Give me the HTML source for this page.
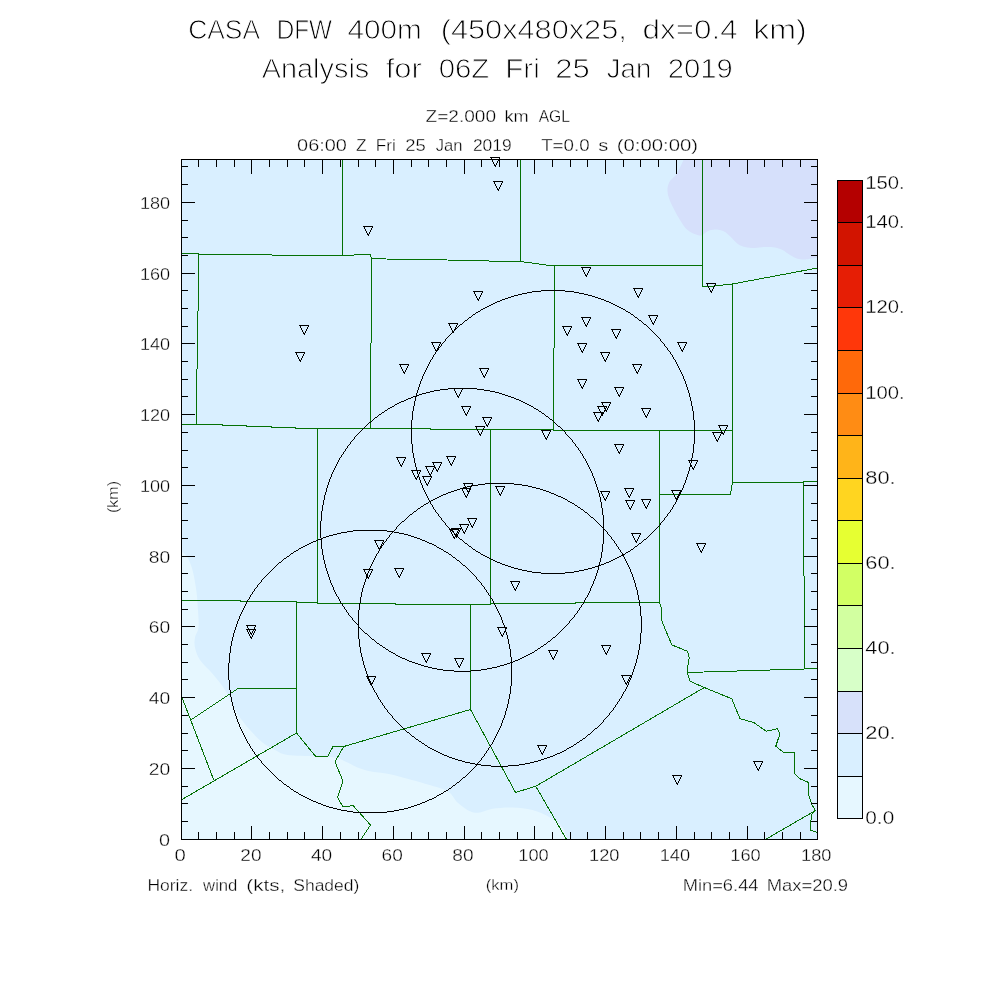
<!DOCTYPE html>
<html lang="en"><head><meta charset="utf-8"><title>CASA DFW 400m Analysis</title>
<style>html,body{margin:0;padding:0;background:#fff}body{width:1000px;height:1000px;overflow:hidden}svg{display:block}text{font-family:"Liberation Sans",sans-serif;fill:#000;stroke:#fff;stroke-width:0.35px}.t1{font-size:27px;stroke-width:.9px}.t2{font-size:16px;stroke-width:.33px}.t3{font-size:14.5px;stroke-width:.3px}.t4{font-size:17.5px;stroke-width:.3px}</style></head><body>
<svg width="1000" height="1000" viewBox="0 0 1000 1000">
<rect width="1000" height="1000" fill="#fff"/>
<defs><clipPath id="pc"><rect x="181.5" y="159.5" width="636.0" height="680.0"/></clipPath></defs>
<g clip-path="url(#pc)">
<rect x="181.5" y="159.5" width="636.0" height="680.0" fill="#d9efff"/>
<path d="M181.50,551.00 C182.50,552.08 185.67,554.33 187.50,557.50 C189.33,560.67 191.04,564.58 192.50,570.00 C193.96,575.42 195.33,583.33 196.25,590.00 C197.17,596.67 197.62,603.75 198.00,610.00 C198.38,616.25 199.00,622.92 198.50,627.50 C198.00,632.08 195.58,634.17 195.00,637.50 C194.42,640.83 194.17,643.75 195.00,647.50 C195.83,651.25 197.08,655.62 200.00,660.00 C202.92,664.38 208.33,668.75 212.50,673.75 C216.67,678.75 220.83,683.33 225.00,690.00 C229.17,696.67 233.33,707.08 237.50,713.75 C241.67,720.42 245.83,725.21 250.00,730.00 C254.17,734.79 258.33,739.17 262.50,742.50 C266.67,745.83 270.83,747.92 275.00,750.00 C279.17,752.08 280.83,753.96 287.50,755.00 C294.17,756.04 307.08,755.83 315.00,756.25 C322.92,756.67 329.58,756.46 335.00,757.50 C340.42,758.54 343.75,760.83 347.50,762.50 C351.25,764.17 353.75,766.04 357.50,767.50 C361.25,768.96 365.00,770.21 370.00,771.25 C375.00,772.29 381.25,772.50 387.50,773.75 C393.75,775.00 401.25,777.08 407.50,778.75 C413.75,780.42 418.33,781.67 425.00,783.75 C431.67,785.83 442.08,788.12 447.50,791.25 C452.92,794.38 453.75,799.17 457.50,802.50 C461.25,805.83 466.25,809.58 470.00,811.25 C473.75,812.92 476.25,812.92 480.00,812.50 C483.75,812.08 487.08,809.58 492.50,808.75 C497.92,807.92 505.83,807.29 512.50,807.50 C519.17,807.71 526.25,808.33 532.50,810.00 C538.75,811.67 545.00,814.58 550.00,817.50 C555.00,820.42 559.58,823.83 562.50,827.50 C565.42,831.17 566.67,837.50 567.50,839.50 L181.5,839.5 Z" fill="#e6f7ff"/>
<path d="M683.75,159.50 C683.12,160.83 681.29,164.92 680.00,167.50 C678.71,170.08 677.67,172.75 676.00,175.00 C674.33,177.25 671.42,178.71 670.00,181.00 C668.58,183.29 667.71,186.00 667.50,188.75 C667.29,191.50 667.71,194.17 668.75,197.50 C669.79,200.83 671.88,205.00 673.75,208.75 C675.62,212.50 677.71,216.46 680.00,220.00 C682.29,223.54 684.58,227.50 687.50,230.00 C690.42,232.50 695.00,234.17 697.50,235.00 C700.00,235.83 700.83,235.62 702.50,235.00 C704.17,234.38 705.42,232.17 707.50,231.25 C709.58,230.33 712.29,229.50 715.00,229.50 C717.71,229.50 721.25,230.12 723.75,231.25 C726.25,232.38 727.71,234.17 730.00,236.25 C732.29,238.33 735.00,241.96 737.50,243.75 C740.00,245.54 742.08,246.29 745.00,247.00 C747.92,247.71 751.67,248.00 755.00,248.00 C758.33,248.00 761.67,247.08 765.00,247.00 C768.33,246.92 772.08,247.00 775.00,247.50 C777.92,248.00 780.00,248.75 782.50,250.00 C785.00,251.25 787.50,253.54 790.00,255.00 C792.50,256.46 795.00,258.00 797.50,258.75 C800.00,259.50 801.67,259.71 805.00,259.50 C808.33,259.29 815.42,257.83 817.50,257.50 L817.5,159.5 Z" fill="#d6e0fb"/>
<g fill="none" stroke="#057005" stroke-width="1" shape-rendering="crispEdges">
<polyline points="342.50,159.50 342.50,255.25"/>
<polyline points="181.50,253.50 198.75,253.50 199.00,254.50 271.25,254.50 272.50,255.25 353.75,255.25 355.00,254.50 370.00,254.50 372.00,258.75 400.00,259.25 422.50,259.25 472.50,260.75 520.75,261.50 550.00,265.50 702.50,265.50"/>
<polyline points="198.75,253.50 198.50,310.00 197.50,312.00 197.50,368.00 196.50,370.00 196.50,423.75"/>
<polyline points="371.75,258.75 371.50,342.00 370.75,344.00 370.75,428.50"/>
<polyline points="520.75,159.50 520.75,261.50"/>
<polyline points="554.50,265.50 554.50,347.50 553.50,348.50 553.50,430.50"/>
<polyline points="702.50,159.50 702.50,286.25 712.00,286.25 732.50,284.00 817.50,268.00"/>
<polyline points="732.50,284.00 732.50,482.50 731.50,487.50 730.50,494.50 659.50,494.50"/>
<polyline points="181.50,424.50 222.00,424.50 222.50,425.50 246.00,425.50 246.50,426.50 271.00,426.50 271.50,427.50 295.00,427.50 295.50,428.50 430.50,428.50 430.50,429.50 553.50,429.50 553.50,430.50 732.50,430.50"/>
<polyline points="317.50,428.50 317.50,603.50"/>
<polyline points="181.50,600.50 240.00,600.50 240.50,601.50 296.00,601.50 296.50,602.50 317.00,602.50 317.50,603.50 395.00,603.50 395.50,604.50 490.00,604.50 490.50,603.50 575.00,603.50 575.50,602.50 659.50,602.50"/>
<polyline points="490.50,429.50 490.50,604.50"/>
<polyline points="659.50,430.50 659.50,602.00 661.25,607.50 661.50,620.00 665.50,630.00 672.00,645.00 687.50,651.25 689.25,657.50 687.00,671.25 690.00,681.25 704.25,687.50 731.75,698.75 740.00,718.75 753.75,722.50 766.25,731.25 777.50,728.75 780.00,733.75 775.75,746.25 783.00,752.00 795.00,752.00 794.50,773.75 800.00,778.75 808.75,782.50 808.75,795.00 812.00,805.00 815.50,810.50 811.25,815.00 810.50,830.00 817.50,832.50"/>
<polyline points="732.50,482.50 803.50,482.50 803.50,481.50 817.50,481.50"/>
<polyline points="803.50,482.00 803.50,575.00 804.50,577.00 804.50,669.00"/>
<polyline points="687.00,672.50 804.25,669.00 817.50,668.25"/>
<polyline points="296.50,602.50 296.50,733.00"/>
<polyline points="296.50,688.00 238.75,688.00 190.75,720.00"/>
<polyline points="182.00,697.50 213.75,780.00"/>
<polyline points="296.50,733.00 182.00,799.50"/>
<polyline points="296.50,733.00 315.50,756.25 328.00,756.25 333.00,746.50 343.75,746.50 470.50,709.50"/>
<polyline points="343.75,746.50 335.00,761.75 343.00,781.25 337.50,797.50 343.00,807.00 353.00,805.50 370.50,825.00 361.25,839.00"/>
<polyline points="470.50,604.50 470.50,709.50"/>
<polyline points="470.50,709.50 515.50,792.50 535.75,786.25 704.25,687.50"/>
<polyline points="535.75,786.25 566.25,839.00"/>
<polyline points="815.50,810.50 766.25,839.00"/>
</g>
<g fill="#000" stroke="none" shape-rendering="crispEdges">
<path d="M541,290h24v1h-24zm-9,1h9v1h-9zm33,0h9v1h-9zm-38,1h5v1h-5zm47,0h5v1h-5zm-52,1h5v1h-5zm57,0h5v1h-5zm-61,1h4v1h-4zm66,0h4v1h-4zm-70,1h4v1h-4zm74,0h4v1h-4zm-77,1h3v1h-3zm81,0h3v1h-3zm-84,1h3v1h-3zm87,0h3v1h-3zm-90,1h3v1h-3zm93,0h3v1h-3zm-96,1h3v1h-3zm99,0h3v1h-3zm-101,1h2v1h-2zm104,0h2v1h-2zm-107,1h3v1h-3zm109,0h3v1h-3zm-111,1h2v1h-2zm114,0h2v1h-2zm-116,1h2v1h-2zm118,0h2v1h-2zm-120,1h2v1h-2zm122,0h2v1h-2zm-124,1h2v1h-2zm126,0h2v1h-2zm-128,1h2v1h-2zm130,0h2v1h-2zm-132,1h2v1h-2zm134,0h2v1h-2zm-136,1h2v1h-2zm138,0h2v1h-2zm-140,1h2v1h-2zm142,0h2v1h-2zm-143,1h1v1h-1zm145,0h1v1h-1zm-147,1h2v1h-2zm148,0h2v1h-2zm-150,1h2v1h-2zm152,0h2v1h-2zm-153,1h1v1h-1zm155,0h1v1h-1zm-157,1h2v1h-2zm158,0h2v1h-2zm-159,1h1v1h-1zm161,0h1v1h-1zm-162,1h1v1h-1zm163,0h1v1h-1zm-165,1h2v1h-2zm166,0h2v1h-2zm-167,1h1v1h-1zm169,0h1v1h-1zm-170,1h1v1h-1zm171,0h1v1h-1zm-173,1h2v1h-2zm174,0h2v1h-2zm-175,1h1v1h-1zm177,0h1v1h-1zm-178,1h1v1h-1zm179,0h1v1h-1zm-180,1h1v1h-1zm181,0h1v1h-1zm-183,1h2v1h-2zm184,0h2v1h-2zm-185,1h1v1h-1zm187,0h1v1h-1zm-188,1h1v1h-1zm189,0h1v1h-1zm-190,1h1v1h-1zm191,0h1v1h-1zm-192,1h1v1h-1zm193,0h1v1h-1zm-194,1h1v1h-1zm195,0h1v1h-1zm-196,1h1v1h-1zm197,0h1v1h-1zm-198,1h1v1h-1zm199,0h1v1h-1zm-200,1h1v1h-1zm201,0h1v1h-1zm-201,199h1v1h-1zm201,0h1v1h-1zm-200,1h1v1h-1zm199,0h1v1h-1zm-198,1h1v1h-1zm197,0h1v1h-1zm-196,1h1v1h-1zm195,0h1v1h-1zm-194,1h1v1h-1zm193,0h1v1h-1zm-192,1h1v1h-1zm191,0h1v1h-1zm-190,1h1v1h-1zm189,0h1v1h-1zm-188,1h1v1h-1zm187,0h1v1h-1zm-186,1h2v1h-2zm184,0h2v1h-2zm-182,1h1v1h-1zm181,0h1v1h-1zm-180,1h1v1h-1zm179,0h1v1h-1zm-178,1h1v1h-1zm177,0h1v1h-1zm-176,1h2v1h-2zm174,0h2v1h-2zm-172,1h1v1h-1zm171,0h1v1h-1zm-170,1h1v1h-1zm169,0h1v1h-1zm-168,1h2v1h-2zm166,0h2v1h-2zm-164,1h1v1h-1zm163,0h1v1h-1zm-162,1h1v1h-1zm161,0h1v1h-1zm-160,1h2v1h-2zm158,0h2v1h-2zm-156,1h1v1h-1zm155,0h1v1h-1zm-154,1h2v1h-2zm152,0h2v1h-2zm-150,1h2v1h-2zm148,0h2v1h-2zm-146,1h1v1h-1zm145,0h1v1h-1zm-144,1h2v1h-2zm142,0h2v1h-2zm-140,1h2v1h-2zm138,0h2v1h-2zm-136,1h2v1h-2zm134,0h2v1h-2zm-132,1h2v1h-2zm130,0h2v1h-2zm-128,1h2v1h-2zm126,0h2v1h-2zm-124,1h2v1h-2zm122,0h2v1h-2zm-120,1h2v1h-2zm118,0h2v1h-2zm-116,1h2v1h-2zm114,0h2v1h-2zm-112,1h3v1h-3zm109,0h3v1h-3zm-106,1h2v1h-2zm104,0h2v1h-2zm-102,1h3v1h-3zm99,0h3v1h-3zm-96,1h3v1h-3zm93,0h3v1h-3zm-90,1h3v1h-3zm87,0h3v1h-3zm-84,1h3v1h-3zm81,0h3v1h-3zm-78,1h4v1h-4zm74,0h4v1h-4zm-70,1h4v1h-4zm66,0h4v1h-4zm-62,1h5v1h-5zm57,0h5v1h-5zm-52,1h5v1h-5zm47,0h5v1h-5zm-42,1h9v1h-9zm33,0h9v1h-9zm-24,1h24v1h-24zm-130,-153h1v24h-1zm1,-9h1v9h-1zm0,33h1v9h-1zm1,-38h1v5h-1zm0,47h1v5h-1zm1,-52h1v5h-1zm0,57h1v5h-1zm1,-61h1v4h-1zm0,66h1v4h-1zm1,-70h1v4h-1zm0,74h1v4h-1zm1,-77h1v3h-1zm0,81h1v3h-1zm1,-84h1v3h-1zm0,87h1v3h-1zm1,-90h1v3h-1zm0,93h1v3h-1zm1,-96h1v3h-1zm0,99h1v3h-1zm1,-101h1v2h-1zm0,104h1v2h-1zm1,-107h1v3h-1zm0,109h1v3h-1zm1,-111h1v2h-1zm0,114h1v2h-1zm1,-116h1v2h-1zm0,118h1v2h-1zm1,-120h1v2h-1zm0,122h1v2h-1zm1,-124h1v2h-1zm0,126h1v2h-1zm1,-128h1v2h-1zm0,130h1v2h-1zm1,-132h1v2h-1zm0,134h1v2h-1zm1,-136h1v2h-1zm0,138h1v2h-1zm1,-140h1v2h-1zm0,142h1v2h-1zm1,-143h1v1h-1zm0,145h1v1h-1zm1,-147h1v2h-1zm0,148h1v2h-1zm1,-150h1v2h-1zm0,152h1v2h-1zm1,-153h1v1h-1zm0,155h1v1h-1zm1,-157h1v2h-1zm0,158h1v2h-1zm1,-159h1v1h-1zm0,161h1v1h-1zm1,-162h1v1h-1zm0,163h1v1h-1zm1,-165h1v2h-1zm0,166h1v2h-1zm1,-167h1v1h-1zm0,169h1v1h-1zm1,-170h1v1h-1zm0,171h1v1h-1zm1,-173h1v2h-1zm0,174h1v2h-1zm1,-175h1v1h-1zm0,177h1v1h-1zm1,-178h1v1h-1zm0,179h1v1h-1zm1,-180h1v1h-1zm0,181h1v1h-1zm1,-183h1v2h-1zm0,184h1v2h-1zm1,-185h1v1h-1zm0,187h1v1h-1zm1,-188h1v1h-1zm0,189h1v1h-1zm1,-190h1v1h-1zm0,191h1v1h-1zm1,-192h1v1h-1zm0,193h1v1h-1zm1,-194h1v1h-1zm0,195h1v1h-1zm1,-196h1v1h-1zm0,197h1v1h-1zm203,-197h1v1h-1zm0,197h1v1h-1zm1,-196h1v1h-1zm0,195h1v1h-1zm1,-194h1v1h-1zm0,193h1v1h-1zm1,-192h1v1h-1zm0,191h1v1h-1zm1,-190h1v1h-1zm0,189h1v1h-1zm1,-188h1v1h-1zm0,187h1v1h-1zm1,-186h1v2h-1zm0,184h1v2h-1zm1,-182h1v1h-1zm0,181h1v1h-1zm1,-180h1v1h-1zm0,179h1v1h-1zm1,-178h1v1h-1zm0,177h1v1h-1zm1,-176h1v2h-1zm0,174h1v2h-1zm1,-172h1v1h-1zm0,171h1v1h-1zm1,-170h1v1h-1zm0,169h1v1h-1zm1,-168h1v2h-1zm0,166h1v2h-1zm1,-164h1v1h-1zm0,163h1v1h-1zm1,-162h1v1h-1zm0,161h1v1h-1zm1,-160h1v2h-1zm0,158h1v2h-1zm1,-156h1v1h-1zm0,155h1v1h-1zm1,-154h1v2h-1zm0,152h1v2h-1zm1,-150h1v2h-1zm0,148h1v2h-1zm1,-146h1v1h-1zm0,145h1v1h-1zm1,-144h1v2h-1zm0,142h1v2h-1zm1,-140h1v2h-1zm0,138h1v2h-1zm1,-136h1v2h-1zm0,134h1v2h-1zm1,-132h1v2h-1zm0,130h1v2h-1zm1,-128h1v2h-1zm0,126h1v2h-1zm1,-124h1v2h-1zm0,122h1v2h-1zm1,-120h1v2h-1zm0,118h1v2h-1zm1,-116h1v2h-1zm0,114h1v2h-1zm1,-112h1v3h-1zm0,109h1v3h-1zm1,-106h1v2h-1zm0,104h1v2h-1zm1,-102h1v3h-1zm0,99h1v3h-1zm1,-96h1v3h-1zm0,93h1v3h-1zm1,-90h1v3h-1zm0,87h1v3h-1zm1,-84h1v3h-1zm0,81h1v3h-1zm1,-78h1v4h-1zm0,74h1v4h-1zm1,-70h1v4h-1zm0,66h1v4h-1zm1,-62h1v5h-1zm0,57h1v5h-1zm1,-52h1v5h-1zm0,47h1v5h-1zm1,-42h1v9h-1zm0,33h1v9h-1zm1,-24h1v24h-1z"/>
<path d="M448,388h29v1h-29zm-8,1h8v1h-8zm37,0h7v1h-7zm-43,1h6v1h-6zm50,0h6v1h-6zm-54,1h4v1h-4zm60,0h5v1h-5zm-64,1h4v1h-4zm69,0h4v1h-4zm-73,1h4v1h-4zm77,0h3v1h-3zm-80,1h3v1h-3zm83,0h3v1h-3zm-86,1h3v1h-3zm89,0h3v1h-3zm-92,1h3v1h-3zm95,0h3v1h-3zm-97,1h2v1h-2zm100,0h3v1h-3zm-103,1h3v1h-3zm106,0h2v1h-2zm-108,1h2v1h-2zm110,0h3v1h-3zm-112,1h2v1h-2zm115,0h2v1h-2zm-118,1h3v1h-3zm120,0h2v1h-2zm-122,1h2v1h-2zm124,0h2v1h-2zm-126,1h2v1h-2zm128,0h2v1h-2zm-130,1h2v1h-2zm132,0h2v1h-2zm-133,1h1v1h-1zm135,0h2v1h-2zm-137,1h2v1h-2zm139,0h2v1h-2zm-141,1h2v1h-2zm143,0h1v1h-1zm-145,1h2v1h-2zm146,0h2v1h-2zm-147,1h1v1h-1zm149,0h2v1h-2zm-151,1h2v1h-2zm153,0h1v1h-1zm-154,1h1v1h-1zm155,0h2v1h-2zm-157,1h2v1h-2zm159,0h1v1h-1zm-160,1h1v1h-1zm161,0h2v1h-2zm-163,1h2v1h-2zm165,0h1v1h-1zm-166,1h1v1h-1zm167,0h1v1h-1zm-168,1h1v1h-1zm169,0h2v1h-2zm-171,1h2v1h-2zm173,0h1v1h-1zm-174,1h1v1h-1zm175,0h1v1h-1zm-176,1h1v1h-1zm177,0h2v1h-2zm-178,1h1v1h-1zm180,0h1v1h-1zm-181,1h1v1h-1zm182,0h1v1h-1zm-184,1h2v1h-2zm185,0h1v1h-1zm-186,1h1v1h-1zm187,0h1v1h-1zm-188,1h1v1h-1zm189,0h1v1h-1zm-190,1h1v1h-1zm191,0h1v1h-1zm-192,1h1v1h-1zm193,0h2v1h-2zm-194,1h1v1h-1zm196,0h1v1h-1zm-197,1h1v1h-1zm198,0h1v1h-1zm-199,1h1v1h-1zm200,0h1v1h-1zm0,200h1v1h-1zm-200,1h1v1h-1zm199,0h1v1h-1zm-198,1h1v1h-1zm197,0h1v1h-1zm-196,1h1v1h-1zm195,0h1v1h-1zm-194,1h2v1h-2zm193,0h1v1h-1zm-191,1h1v1h-1zm190,0h1v1h-1zm-189,1h1v1h-1zm188,0h1v1h-1zm-187,1h1v1h-1zm186,0h1v1h-1zm-185,1h1v1h-1zm183,0h2v1h-2zm-182,1h1v1h-1zm181,0h1v1h-1zm-180,1h2v1h-2zm179,0h1v1h-1zm-177,1h1v1h-1zm176,0h1v1h-1zm-175,1h1v1h-1zm173,0h2v1h-2zm-172,1h1v1h-1zm171,0h1v1h-1zm-170,1h2v1h-2zm169,0h1v1h-1zm-167,1h1v1h-1zm165,0h2v1h-2zm-164,1h2v1h-2zm163,0h1v1h-1zm-161,1h1v1h-1zm159,0h2v1h-2zm-158,1h2v1h-2zm157,0h1v1h-1zm-155,1h1v1h-1zm153,0h2v1h-2zm-152,1h2v1h-2zm151,0h1v1h-1zm-149,1h1v1h-1zm147,0h2v1h-2zm-146,1h2v1h-2zm145,0h1v1h-1zm-143,1h2v1h-2zm141,0h2v1h-2zm-139,1h2v1h-2zm137,0h2v1h-2zm-135,1h1v1h-1zm133,0h2v1h-2zm-132,1h2v1h-2zm130,0h2v1h-2zm-128,1h2v1h-2zm126,0h2v1h-2zm-124,1h2v1h-2zm122,0h2v1h-2zm-120,1h3v1h-3zm118,0h2v1h-2zm-115,1h2v1h-2zm113,0h2v1h-2zm-111,1h2v1h-2zm108,0h3v1h-3zm-106,1h3v1h-3zm104,0h2v1h-2zm-101,1h3v1h-3zm98,0h3v1h-3zm-95,1h3v1h-3zm92,0h3v1h-3zm-89,1h3v1h-3zm86,0h3v1h-3zm-83,1h3v1h-3zm79,0h4v1h-4zm-76,1h4v1h-4zm73,0h3v1h-3zm-69,1h4v1h-4zm64,0h5v1h-5zm-60,1h5v1h-5zm55,0h5v1h-5zm-50,1h6v1h-6zm44,0h6v1h-6zm-38,1h11v1h-11zm28,0h10v1h-10zm-17,1h17v1h-17zm-134,-150h1v17h-1zm1,-10h1v10h-1zm0,27h1v11h-1zm1,-33h1v6h-1zm0,44h1v6h-1zm1,-49h1v5h-1zm0,55h1v5h-1zm1,-60h1v5h-1zm0,65h1v4h-1zm1,-68h1v3h-1zm0,72h1v4h-1zm1,-76h1v4h-1zm0,80h1v3h-1zm1,-83h1v3h-1zm0,86h1v3h-1zm1,-89h1v3h-1zm0,92h1v3h-1zm1,-95h1v3h-1zm0,98h1v3h-1zm1,-100h1v2h-1zm0,103h1v3h-1zm1,-106h1v3h-1zm0,109h1v2h-1zm1,-111h1v2h-1zm0,113h1v2h-1zm1,-115h1v2h-1zm0,117h1v3h-1zm1,-119h1v2h-1zm0,122h1v2h-1zm1,-124h1v2h-1zm0,126h1v2h-1zm1,-128h1v2h-1zm0,130h1v2h-1zm1,-132h1v2h-1zm0,134h1v1h-1zm1,-136h1v2h-1zm0,137h1v2h-1zm1,-139h1v2h-1zm0,141h1v2h-1zm1,-142h1v1h-1zm0,144h1v2h-1zm1,-146h1v2h-1zm0,148h1v1h-1zm1,-149h1v1h-1zm0,150h1v2h-1zm1,-152h1v2h-1zm0,154h1v1h-1zm1,-155h1v1h-1zm0,156h1v2h-1zm1,-158h1v2h-1zm0,160h1v1h-1zm1,-161h1v1h-1zm0,162h1v2h-1zm1,-164h1v2h-1zm0,166h1v1h-1zm1,-167h1v1h-1zm0,168h1v2h-1zm1,-169h1v1h-1zm0,171h1v1h-1zm1,-173h1v2h-1zm0,174h1v1h-1zm1,-175h1v1h-1zm0,176h1v1h-1zm1,-177h1v1h-1zm0,178h1v2h-1zm1,-179h1v1h-1zm0,181h1v1h-1zm1,-183h1v2h-1zm0,184h1v1h-1zm1,-185h1v1h-1zm0,186h1v1h-1zm1,-187h1v1h-1zm0,188h1v1h-1zm1,-189h1v1h-1zm0,190h1v1h-1zm1,-191h1v1h-1zm0,192h1v2h-1zm1,-193h1v1h-1zm0,195h1v1h-1zm1,-196h1v1h-1zm0,197h1v1h-1zm1,-198h1v1h-1zm0,199h1v1h-1zm202,-199h1v1h-1zm0,198h1v1h-1zm1,-197h1v1h-1zm0,196h1v1h-1zm1,-195h1v2h-1zm0,194h1v1h-1zm1,-192h1v1h-1zm0,191h1v1h-1zm1,-190h1v1h-1zm0,189h1v1h-1zm1,-188h1v1h-1zm0,187h1v1h-1zm1,-186h1v1h-1zm0,184h1v2h-1zm1,-183h1v1h-1zm0,182h1v1h-1zm1,-181h1v1h-1zm0,180h1v1h-1zm1,-179h1v2h-1zm0,178h1v1h-1zm1,-176h1v1h-1zm0,175h1v1h-1zm1,-174h1v1h-1zm0,172h1v2h-1zm1,-171h1v2h-1zm0,170h1v1h-1zm1,-168h1v1h-1zm0,167h1v1h-1zm1,-166h1v1h-1zm0,164h1v2h-1zm1,-163h1v2h-1zm0,162h1v1h-1zm1,-160h1v1h-1zm0,158h1v2h-1zm1,-157h1v2h-1zm0,156h1v1h-1zm1,-154h1v1h-1zm0,152h1v2h-1zm1,-151h1v2h-1zm0,150h1v1h-1zm1,-148h1v2h-1zm0,146h1v2h-1zm1,-144h1v1h-1zm0,142h1v2h-1zm1,-141h1v2h-1zm0,139h1v2h-1zm1,-137h1v2h-1zm0,136h1v1h-1zm1,-134h1v2h-1zm0,132h1v2h-1zm1,-130h1v2h-1zm0,128h1v2h-1zm1,-126h1v2h-1zm0,124h1v2h-1zm1,-122h1v2h-1zm0,119h1v3h-1zm1,-117h1v2h-1zm0,115h1v2h-1zm1,-113h1v3h-1zm0,111h1v2h-1zm1,-108h1v2h-1zm0,105h1v3h-1zm1,-103h1v3h-1zm0,101h1v2h-1zm1,-98h1v3h-1zm0,95h1v3h-1zm1,-92h1v3h-1zm0,89h1v3h-1zm1,-86h1v3h-1zm0,83h1v3h-1zm1,-80h1v3h-1zm0,76h1v4h-1zm1,-73h1v4h-1zm0,69h1v4h-1zm1,-65h1v5h-1zm0,61h1v4h-1zm1,-56h1v6h-1zm0,50h1v6h-1zm1,-44h1v7h-1zm0,36h1v8h-1zm1,-29h1v29h-1z"/>
<path d="M485,483h29v1h-29zm-7,1h7v1h-7zm36,0h8v1h-8zm-42,1h6v1h-6zm50,0h6v1h-6zm-55,1h5v1h-5zm61,0h4v1h-4zm-65,1h4v1h-4zm69,0h4v1h-4zm-72,1h3v1h-3zm76,0h4v1h-4zm-79,1h3v1h-3zm83,0h3v1h-3zm-86,1h3v1h-3zm89,0h3v1h-3zm-92,1h3v1h-3zm95,0h3v1h-3zm-98,1h3v1h-3zm101,0h2v1h-2zm-103,1h2v1h-2zm105,0h3v1h-3zm-108,1h3v1h-3zm111,0h2v1h-2zm-113,1h2v1h-2zm115,0h2v1h-2zm-117,1h2v1h-2zm119,0h3v1h-3zm-121,1h2v1h-2zm124,0h2v1h-2zm-126,1h2v1h-2zm128,0h2v1h-2zm-130,1h2v1h-2zm132,0h2v1h-2zm-134,1h2v1h-2zm136,0h1v1h-1zm-138,1h2v1h-2zm139,0h2v1h-2zm-140,1h1v1h-1zm142,0h2v1h-2zm-144,1h2v1h-2zm146,0h2v1h-2zm-148,1h2v1h-2zm150,0h1v1h-1zm-151,1h1v1h-1zm152,0h2v1h-2zm-154,1h2v1h-2zm156,0h1v1h-1zm-157,1h1v1h-1zm158,0h2v1h-2zm-160,1h2v1h-2zm162,0h1v1h-1zm-163,1h1v1h-1zm164,0h2v1h-2zm-165,1h1v1h-1zm167,0h1v1h-1zm-169,1h2v1h-2zm170,0h1v1h-1zm-171,1h1v1h-1zm172,0h2v1h-2zm-173,1h1v1h-1zm175,0h1v1h-1zm-177,1h2v1h-2zm178,0h1v1h-1zm-179,1h1v1h-1zm180,0h1v1h-1zm-181,1h1v1h-1zm182,0h1v1h-1zm-183,1h1v1h-1zm184,0h2v1h-2zm-185,1h1v1h-1zm187,0h1v1h-1zm-188,1h1v1h-1zm189,0h1v1h-1zm-190,1h1v1h-1zm191,0h1v1h-1zm-193,1h2v1h-2zm194,0h1v1h-1zm-195,1h1v1h-1zm196,0h1v1h-1zm-197,1h1v1h-1zm198,0h1v1h-1zm-199,1h1v1h-1zm200,0h1v1h-1zm-200,200h1v1h-1zm1,1h1v1h-1zm199,0h1v1h-1zm-198,1h1v1h-1zm197,0h1v1h-1zm-196,1h1v1h-1zm195,0h1v1h-1zm-194,1h1v1h-1zm192,0h2v1h-2zm-191,1h1v1h-1zm190,0h1v1h-1zm-189,1h1v1h-1zm188,0h1v1h-1zm-187,1h1v1h-1zm186,0h1v1h-1zm-185,1h2v1h-2zm184,0h1v1h-1zm-182,1h1v1h-1zm181,0h1v1h-1zm-180,1h1v1h-1zm178,0h2v1h-2zm-177,1h1v1h-1zm176,0h1v1h-1zm-175,1h2v1h-2zm174,0h1v1h-1zm-172,1h1v1h-1zm171,0h1v1h-1zm-170,1h1v1h-1zm168,0h2v1h-2zm-167,1h2v1h-2zm166,0h1v1h-1zm-164,1h1v1h-1zm162,0h2v1h-2zm-161,1h2v1h-2zm160,0h1v1h-1zm-158,1h1v1h-1zm156,0h2v1h-2zm-155,1h2v1h-2zm154,0h1v1h-1zm-152,1h1v1h-1zm150,0h2v1h-2zm-149,1h2v1h-2zm148,0h1v1h-1zm-146,1h1v1h-1zm144,0h2v1h-2zm-143,1h2v1h-2zm141,0h2v1h-2zm-139,1h2v1h-2zm137,0h2v1h-2zm-135,1h2v1h-2zm134,0h1v1h-1zm-132,1h2v1h-2zm130,0h2v1h-2zm-128,1h2v1h-2zm126,0h2v1h-2zm-124,1h2v1h-2zm122,0h2v1h-2zm-120,1h2v1h-2zm117,0h3v1h-3zm-115,1h2v1h-2zm113,0h2v1h-2zm-111,1h3v1h-3zm109,0h2v1h-2zm-106,1h2v1h-2zm103,0h3v1h-3zm-101,1h3v1h-3zm98,0h3v1h-3zm-95,1h3v1h-3zm92,0h3v1h-3zm-89,1h3v1h-3zm86,0h3v1h-3zm-83,1h4v1h-4zm80,0h3v1h-3zm-76,1h3v1h-3zm72,0h4v1h-4zm-69,1h5v1h-5zm65,0h4v1h-4zm-60,1h5v1h-5zm55,0h5v1h-5zm-50,1h6v1h-6zm44,0h6v1h-6zm-38,1h10v1h-10zm27,0h11v1h-11zm-17,1h17v1h-17zm-133,-156h1v29h-1zm1,-7h1v7h-1zm0,36h1v8h-1zm1,-42h1v6h-1zm0,50h1v6h-1zm1,-55h1v5h-1zm0,61h1v4h-1zm1,-65h1v4h-1zm0,69h1v4h-1zm1,-72h1v3h-1zm0,76h1v4h-1zm1,-79h1v3h-1zm0,83h1v3h-1zm1,-86h1v3h-1zm0,89h1v3h-1zm1,-92h1v3h-1zm0,95h1v3h-1zm1,-98h1v3h-1zm0,101h1v2h-1zm1,-103h1v2h-1zm0,105h1v3h-1zm1,-108h1v3h-1zm0,111h1v2h-1zm1,-113h1v2h-1zm0,115h1v2h-1zm1,-117h1v2h-1zm0,119h1v3h-1zm1,-121h1v2h-1zm0,124h1v2h-1zm1,-126h1v2h-1zm0,128h1v2h-1zm1,-130h1v2h-1zm0,132h1v2h-1zm1,-134h1v2h-1zm0,136h1v1h-1zm1,-138h1v2h-1zm0,139h1v2h-1zm1,-140h1v1h-1zm0,142h1v2h-1zm1,-144h1v2h-1zm0,146h1v2h-1zm1,-148h1v2h-1zm0,150h1v1h-1zm1,-151h1v1h-1zm0,152h1v2h-1zm1,-154h1v2h-1zm0,156h1v1h-1zm1,-157h1v1h-1zm0,158h1v2h-1zm1,-160h1v2h-1zm0,162h1v1h-1zm1,-163h1v1h-1zm0,164h1v2h-1zm1,-165h1v1h-1zm0,167h1v1h-1zm1,-169h1v2h-1zm0,170h1v1h-1zm1,-171h1v1h-1zm0,172h1v2h-1zm1,-173h1v1h-1zm0,175h1v1h-1zm1,-177h1v2h-1zm0,178h1v1h-1zm1,-179h1v1h-1zm0,180h1v1h-1zm1,-181h1v1h-1zm0,182h1v1h-1zm1,-183h1v1h-1zm0,184h1v2h-1zm1,-185h1v1h-1zm0,187h1v1h-1zm1,-188h1v1h-1zm0,189h1v1h-1zm1,-190h1v1h-1zm0,191h1v1h-1zm1,-193h1v2h-1zm0,194h1v1h-1zm1,-195h1v1h-1zm0,196h1v1h-1zm1,-197h1v1h-1zm0,198h1v1h-1zm202,-198h1v1h-1zm0,199h1v1h-1zm1,-198h1v1h-1zm0,197h1v1h-1zm1,-196h1v1h-1zm0,195h1v1h-1zm1,-194h1v1h-1zm0,192h1v2h-1zm1,-191h1v1h-1zm0,190h1v1h-1zm1,-189h1v1h-1zm0,188h1v1h-1zm1,-187h1v1h-1zm0,186h1v1h-1zm1,-185h1v2h-1zm0,184h1v1h-1zm1,-182h1v1h-1zm0,181h1v1h-1zm1,-180h1v1h-1zm0,178h1v2h-1zm1,-177h1v1h-1zm0,176h1v1h-1zm1,-175h1v2h-1zm0,174h1v1h-1zm1,-172h1v1h-1zm0,171h1v1h-1zm1,-170h1v1h-1zm0,168h1v2h-1zm1,-167h1v2h-1zm0,166h1v1h-1zm1,-164h1v1h-1zm0,162h1v2h-1zm1,-161h1v2h-1zm0,160h1v1h-1zm1,-158h1v1h-1zm0,156h1v2h-1zm1,-155h1v2h-1zm0,154h1v1h-1zm1,-152h1v1h-1zm0,150h1v2h-1zm1,-149h1v2h-1zm0,148h1v1h-1zm1,-146h1v1h-1zm0,144h1v2h-1zm1,-143h1v2h-1zm0,141h1v2h-1zm1,-139h1v2h-1zm0,137h1v2h-1zm1,-135h1v2h-1zm0,134h1v1h-1zm1,-132h1v2h-1zm0,130h1v2h-1zm1,-128h1v2h-1zm0,126h1v2h-1zm1,-124h1v2h-1zm0,122h1v2h-1zm1,-120h1v2h-1zm0,117h1v3h-1zm1,-115h1v2h-1zm0,113h1v2h-1zm1,-111h1v3h-1zm0,109h1v2h-1zm1,-106h1v2h-1zm0,103h1v3h-1zm1,-101h1v3h-1zm0,98h1v3h-1zm1,-95h1v3h-1zm0,92h1v3h-1zm1,-89h1v3h-1zm0,86h1v3h-1zm1,-83h1v4h-1zm0,80h1v3h-1zm1,-76h1v3h-1zm0,72h1v4h-1zm1,-69h1v5h-1zm0,65h1v4h-1zm1,-60h1v5h-1zm0,55h1v5h-1zm1,-50h1v6h-1zm0,44h1v6h-1zm1,-38h1v10h-1zm0,27h1v11h-1zm1,-17h1v17h-1z"/>
<path d="M353,530h34v1h-34zm-6,1h6v1h-6zm40,0h7v1h-7zm-46,1h6v1h-6zm53,0h5v1h-5zm-57,1h4v1h-4zm62,0h5v1h-5zm-66,1h4v1h-4zm71,0h4v1h-4zm-75,1h4v1h-4zm79,0h3v1h-3zm-82,1h3v1h-3zm85,0h3v1h-3zm-88,1h3v1h-3zm91,0h3v1h-3zm-93,1h2v1h-2zm96,0h3v1h-3zm-99,1h3v1h-3zm102,0h2v1h-2zm-104,1h2v1h-2zm106,0h3v1h-3zm-109,1h3v1h-3zm112,0h2v1h-2zm-114,1h2v1h-2zm116,0h2v1h-2zm-118,1h2v1h-2zm120,0h3v1h-3zm-122,1h2v1h-2zm125,0h2v1h-2zm-127,1h2v1h-2zm129,0h2v1h-2zm-131,1h2v1h-2zm133,0h1v1h-1zm-135,1h2v1h-2zm136,0h2v1h-2zm-138,1h2v1h-2zm140,0h2v1h-2zm-141,1h1v1h-1zm143,0h2v1h-2zm-145,1h2v1h-2zm147,0h1v1h-1zm-149,1h2v1h-2zm150,0h2v1h-2zm-151,1h1v1h-1zm153,0h2v1h-2zm-155,1h2v1h-2zm157,0h1v1h-1zm-158,1h1v1h-1zm159,0h2v1h-2zm-160,1h1v1h-1zm162,0h1v1h-1zm-164,1h2v1h-2zm165,0h1v1h-1zm-166,1h1v1h-1zm167,0h2v1h-2zm-169,1h2v1h-2zm171,0h1v1h-1zm-172,1h1v1h-1zm173,0h1v1h-1zm-174,1h1v1h-1zm175,0h2v1h-2zm-176,1h1v1h-1zm178,0h1v1h-1zm-180,1h2v1h-2zm181,0h1v1h-1zm-182,1h1v1h-1zm183,0h1v1h-1zm-184,1h1v1h-1zm185,0h1v1h-1zm-186,1h1v1h-1zm187,0h2v1h-2zm-188,1h1v1h-1zm190,0h1v1h-1zm-191,1h1v1h-1zm192,0h1v1h-1zm-193,1h1v1h-1zm194,0h1v1h-1zm-195,1h1v1h-1zm196,0h1v1h-1zm-197,1h1v1h-1zm198,0h1v1h-1zm-199,1h1v1h-1zm200,0h1v1h-1zm-200,200h1v1h-1zm200,0h1v1h-1zm-199,1h1v1h-1zm198,0h1v1h-1zm-197,1h1v1h-1zm196,0h1v1h-1zm-195,1h1v1h-1zm194,0h1v1h-1zm-193,1h1v1h-1zm192,0h1v1h-1zm-191,1h1v1h-1zm190,0h1v1h-1zm-189,1h1v1h-1zm187,0h2v1h-2zm-186,1h1v1h-1zm185,0h1v1h-1zm-184,1h1v1h-1zm183,0h1v1h-1zm-182,1h2v1h-2zm181,0h1v1h-1zm-179,1h1v1h-1zm178,0h1v1h-1zm-177,1h1v1h-1zm175,0h2v1h-2zm-174,1h1v1h-1zm173,0h1v1h-1zm-172,1h2v1h-2zm171,0h1v1h-1zm-169,1h1v1h-1zm167,0h2v1h-2zm-166,1h2v1h-2zm165,0h1v1h-1zm-163,1h1v1h-1zm162,0h1v1h-1zm-161,1h1v1h-1zm159,0h2v1h-2zm-158,1h2v1h-2zm157,0h1v1h-1zm-155,1h1v1h-1zm153,0h2v1h-2zm-152,1h2v1h-2zm150,0h2v1h-2zm-148,1h2v1h-2zm147,0h1v1h-1zm-145,1h1v1h-1zm143,0h2v1h-2zm-142,1h2v1h-2zm140,0h2v1h-2zm-138,1h2v1h-2zm136,0h2v1h-2zm-134,1h2v1h-2zm133,0h1v1h-1zm-131,1h2v1h-2zm129,0h2v1h-2zm-127,1h2v1h-2zm125,0h2v1h-2zm-123,1h2v1h-2zm120,0h3v1h-3zm-118,1h2v1h-2zm116,0h2v1h-2zm-114,1h3v1h-3zm112,0h2v1h-2zm-109,1h2v1h-2zm106,0h3v1h-3zm-104,1h3v1h-3zm102,0h2v1h-2zm-99,1h2v1h-2zm96,0h3v1h-3zm-94,1h3v1h-3zm91,0h3v1h-3zm-88,1h3v1h-3zm85,0h3v1h-3zm-82,1h4v1h-4zm79,0h3v1h-3zm-75,1h4v1h-4zm71,0h4v1h-4zm-67,1h4v1h-4zm62,0h5v1h-5zm-58,1h6v1h-6zm53,0h5v1h-5zm-47,1h6v1h-6zm40,0h7v1h-7zm-34,1h34v1h-34zm-125,-149h1v17h-1zm1,-10h1v10h-1zm0,27h1v10h-1zm1,-34h1v7h-1zm0,44h1v7h-1zm1,-49h1v5h-1zm0,56h1v5h-1zm1,-60h1v4h-1zm0,65h1v4h-1zm1,-69h1v4h-1zm0,73h1v4h-1zm1,-76h1v3h-1zm0,80h1v3h-1zm1,-83h1v3h-1zm0,86h1v3h-1zm1,-89h1v3h-1zm0,92h1v3h-1zm1,-95h1v3h-1zm0,98h1v3h-1zm1,-100h1v2h-1zm0,103h1v2h-1zm1,-106h1v3h-1zm0,108h1v3h-1zm1,-110h1v2h-1zm0,113h1v2h-1zm1,-115h1v2h-1zm0,117h1v2h-1zm1,-119h1v2h-1zm0,121h1v2h-1zm1,-123h1v2h-1zm0,125h1v2h-1zm1,-127h1v2h-1zm0,129h1v2h-1zm1,-131h1v2h-1zm0,133h1v2h-1zm1,-135h1v2h-1zm0,137h1v2h-1zm1,-139h1v2h-1zm0,141h1v2h-1zm1,-142h1v1h-1zm0,144h1v1h-1zm1,-146h1v2h-1zm0,147h1v2h-1zm1,-149h1v2h-1zm0,151h1v2h-1zm1,-152h1v1h-1zm0,154h1v1h-1zm1,-156h1v2h-1zm0,157h1v2h-1zm1,-158h1v1h-1zm0,160h1v1h-1zm1,-162h1v2h-1zm0,163h1v2h-1zm1,-164h1v1h-1zm0,166h1v1h-1zm1,-167h1v1h-1zm0,168h1v1h-1zm1,-170h1v2h-1zm0,171h1v2h-1zm1,-172h1v1h-1zm0,174h1v1h-1zm1,-175h1v1h-1zm0,176h1v1h-1zm1,-177h1v1h-1zm0,178h1v1h-1zm1,-180h1v2h-1zm0,181h1v2h-1zm1,-182h1v1h-1zm0,184h1v1h-1zm1,-185h1v1h-1zm0,186h1v1h-1zm1,-187h1v1h-1zm0,188h1v1h-1zm1,-189h1v1h-1zm0,190h1v1h-1zm1,-191h1v1h-1zm0,192h1v1h-1zm1,-193h1v1h-1zm0,194h1v1h-1zm1,-195h1v1h-1zm0,196h1v1h-1zm1,-197h1v1h-1zm0,198h1v1h-1zm202,-198h1v1h-1zm0,198h1v1h-1zm1,-197h1v1h-1zm0,196h1v1h-1zm1,-195h1v1h-1zm0,194h1v1h-1zm1,-193h1v1h-1zm0,192h1v1h-1zm1,-191h1v1h-1zm0,190h1v1h-1zm1,-189h1v2h-1zm0,187h1v2h-1zm1,-185h1v1h-1zm0,184h1v1h-1zm1,-183h1v1h-1zm0,182h1v1h-1zm1,-181h1v1h-1zm0,180h1v1h-1zm1,-179h1v1h-1zm0,178h1v1h-1zm1,-177h1v2h-1zm0,175h1v2h-1zm1,-173h1v1h-1zm0,172h1v1h-1zm1,-171h1v1h-1zm0,170h1v1h-1zm1,-169h1v2h-1zm0,167h1v2h-1zm1,-165h1v1h-1zm0,164h1v1h-1zm1,-163h1v2h-1zm0,161h1v2h-1zm1,-159h1v1h-1zm0,158h1v1h-1zm1,-157h1v2h-1zm0,155h1v2h-1zm1,-153h1v1h-1zm0,152h1v1h-1zm1,-151h1v2h-1zm0,149h1v2h-1zm1,-147h1v1h-1zm0,146h1v1h-1zm1,-145h1v2h-1zm0,143h1v2h-1zm1,-141h1v2h-1zm0,139h1v2h-1zm1,-137h1v2h-1zm0,135h1v2h-1zm1,-133h1v2h-1zm0,131h1v2h-1zm1,-129h1v2h-1zm0,127h1v2h-1zm1,-125h1v2h-1zm0,123h1v2h-1zm1,-121h1v2h-1zm0,119h1v2h-1zm1,-117h1v2h-1zm0,115h1v2h-1zm1,-113h1v2h-1zm0,111h1v2h-1zm1,-109h1v3h-1zm0,106h1v3h-1zm1,-103h1v3h-1zm0,100h1v3h-1zm1,-97h1v2h-1zm0,95h1v2h-1zm1,-93h1v3h-1zm0,90h1v3h-1zm1,-87h1v4h-1zm0,83h1v4h-1zm1,-79h1v3h-1zm0,76h1v3h-1zm1,-73h1v4h-1zm0,69h1v4h-1zm1,-65h1v5h-1zm0,60h1v5h-1zm1,-55h1v5h-1zm0,50h1v5h-1zm1,-45h1v8h-1zm0,37h1v8h-1zm1,-29h1v29h-1z"/>
</g>
</g>
<g fill="#000" stroke="none" shape-rendering="crispEdges">
<path d="M363,226h10v1h-10zm1,1h1v2h-1zm1,2h1v2h-1zm1,2h1v2h-1zm1,2h1v2h-1zm1,2h1v1h-1zm4-8h1v1h-1zm-1,1h1v2h-1zm-1,2h1v2h-1zm-1,2h1v2h-1zm-1,2h1v2h-1z"/>
<path d="M299,325h10v1h-10zm1,1h1v2h-1zm1,2h1v2h-1zm1,2h1v2h-1zm1,2h1v2h-1zm1,2h1v1h-1zm4-8h1v1h-1zm-1,1h1v2h-1zm-1,2h1v2h-1zm-1,2h1v2h-1zm-1,2h1v2h-1z"/>
<path d="M295,352h10v1h-10zm1,1h1v2h-1zm1,2h1v2h-1zm1,2h1v2h-1zm1,2h1v2h-1zm1,2h1v1h-1zm4-8h1v1h-1zm-1,1h1v2h-1zm-1,2h1v2h-1zm-1,2h1v2h-1zm-1,2h1v2h-1z"/>
<path d="M399,364h10v1h-10zm1,1h1v2h-1zm1,2h1v2h-1zm1,2h1v2h-1zm1,2h1v2h-1zm1,2h1v1h-1zm4-8h1v1h-1zm-1,1h1v2h-1zm-1,2h1v2h-1zm-1,2h1v2h-1zm-1,2h1v2h-1z"/>
<path d="M490,157h10v1h-10zm1,1h1v2h-1zm1,2h1v2h-1zm1,2h1v2h-1zm1,2h1v2h-1zm1,2h1v1h-1zm4-8h1v1h-1zm-1,1h1v2h-1zm-1,2h1v2h-1zm-1,2h1v2h-1zm-1,2h1v2h-1z"/>
<path d="M493,181h10v1h-10zm1,1h1v2h-1zm1,2h1v2h-1zm1,2h1v2h-1zm1,2h1v2h-1zm1,2h1v1h-1zm4-8h1v1h-1zm-1,1h1v2h-1zm-1,2h1v2h-1zm-1,2h1v2h-1zm-1,2h1v2h-1z"/>
<path d="M581,267h10v1h-10zm1,1h1v2h-1zm1,2h1v2h-1zm1,2h1v2h-1zm1,2h1v2h-1zm1,2h1v1h-1zm4-8h1v1h-1zm-1,1h1v2h-1zm-1,2h1v2h-1zm-1,2h1v2h-1zm-1,2h1v2h-1z"/>
<path d="M473,291h10v1h-10zm1,1h1v2h-1zm1,2h1v2h-1zm1,2h1v2h-1zm1,2h1v2h-1zm1,2h1v1h-1zm4-8h1v1h-1zm-1,1h1v2h-1zm-1,2h1v2h-1zm-1,2h1v2h-1zm-1,2h1v2h-1z"/>
<path d="M633,288h10v1h-10zm1,1h1v2h-1zm1,2h1v2h-1zm1,2h1v2h-1zm1,2h1v2h-1zm1,2h1v1h-1zm4-8h1v1h-1zm-1,1h1v2h-1zm-1,2h1v2h-1zm-1,2h1v2h-1zm-1,2h1v2h-1z"/>
<path d="M448,323h10v1h-10zm1,1h1v2h-1zm1,2h1v2h-1zm1,2h1v2h-1zm1,2h1v2h-1zm1,2h1v1h-1zm4-8h1v1h-1zm-1,1h1v2h-1zm-1,2h1v2h-1zm-1,2h1v2h-1zm-1,2h1v2h-1z"/>
<path d="M581,317h10v1h-10zm1,1h1v2h-1zm1,2h1v2h-1zm1,2h1v2h-1zm1,2h1v2h-1zm1,2h1v1h-1zm4-8h1v1h-1zm-1,1h1v2h-1zm-1,2h1v2h-1zm-1,2h1v2h-1zm-1,2h1v2h-1z"/>
<path d="M562,326h10v1h-10zm1,1h1v2h-1zm1,2h1v2h-1zm1,2h1v2h-1zm1,2h1v2h-1zm1,2h1v1h-1zm4-8h1v1h-1zm-1,1h1v2h-1zm-1,2h1v2h-1zm-1,2h1v2h-1zm-1,2h1v2h-1z"/>
<path d="M611,329h10v1h-10zm1,1h1v2h-1zm1,2h1v2h-1zm1,2h1v2h-1zm1,2h1v2h-1zm1,2h1v1h-1zm4-8h1v1h-1zm-1,1h1v2h-1zm-1,2h1v2h-1zm-1,2h1v2h-1zm-1,2h1v2h-1z"/>
<path d="M431,342h10v1h-10zm1,1h1v2h-1zm1,2h1v2h-1zm1,2h1v2h-1zm1,2h1v2h-1zm1,2h1v1h-1zm4-8h1v1h-1zm-1,1h1v2h-1zm-1,2h1v2h-1zm-1,2h1v2h-1zm-1,2h1v2h-1z"/>
<path d="M577,343h10v1h-10zm1,1h1v2h-1zm1,2h1v2h-1zm1,2h1v2h-1zm1,2h1v2h-1zm1,2h1v1h-1zm4-8h1v1h-1zm-1,1h1v2h-1zm-1,2h1v2h-1zm-1,2h1v2h-1zm-1,2h1v2h-1z"/>
<path d="M600,352h10v1h-10zm1,1h1v2h-1zm1,2h1v2h-1zm1,2h1v2h-1zm1,2h1v2h-1zm1,2h1v1h-1zm4-8h1v1h-1zm-1,1h1v2h-1zm-1,2h1v2h-1zm-1,2h1v2h-1zm-1,2h1v2h-1z"/>
<path d="M479,368h10v1h-10zm1,1h1v2h-1zm1,2h1v2h-1zm1,2h1v2h-1zm1,2h1v2h-1zm1,2h1v1h-1zm4-8h1v1h-1zm-1,1h1v2h-1zm-1,2h1v2h-1zm-1,2h1v2h-1zm-1,2h1v2h-1z"/>
<path d="M632,364h10v1h-10zm1,1h1v2h-1zm1,2h1v2h-1zm1,2h1v2h-1zm1,2h1v2h-1zm1,2h1v1h-1zm4-8h1v1h-1zm-1,1h1v2h-1zm-1,2h1v2h-1zm-1,2h1v2h-1zm-1,2h1v2h-1z"/>
<path d="M577,379h10v1h-10zm1,1h1v2h-1zm1,2h1v2h-1zm1,2h1v2h-1zm1,2h1v2h-1zm1,2h1v1h-1zm4-8h1v1h-1zm-1,1h1v2h-1zm-1,2h1v2h-1zm-1,2h1v2h-1zm-1,2h1v2h-1z"/>
<path d="M614,387h10v1h-10zm1,1h1v2h-1zm1,2h1v2h-1zm1,2h1v2h-1zm1,2h1v2h-1zm1,2h1v1h-1zm4-8h1v1h-1zm-1,1h1v2h-1zm-1,2h1v2h-1zm-1,2h1v2h-1zm-1,2h1v2h-1z"/>
<path d="M453,388h10v1h-10zm1,1h1v2h-1zm1,2h1v2h-1zm1,2h1v2h-1zm1,2h1v2h-1zm1,2h1v1h-1zm4-8h1v1h-1zm-1,1h1v2h-1zm-1,2h1v2h-1zm-1,2h1v2h-1zm-1,2h1v2h-1z"/>
<path d="M706,283h10v1h-10zm1,1h1v2h-1zm1,2h1v2h-1zm1,2h1v2h-1zm1,2h1v2h-1zm1,2h1v1h-1zm4-8h1v1h-1zm-1,1h1v2h-1zm-1,2h1v2h-1zm-1,2h1v2h-1zm-1,2h1v2h-1z"/>
<path d="M648,315h10v1h-10zm1,1h1v2h-1zm1,2h1v2h-1zm1,2h1v2h-1zm1,2h1v2h-1zm1,2h1v1h-1zm4-8h1v1h-1zm-1,1h1v2h-1zm-1,2h1v2h-1zm-1,2h1v2h-1zm-1,2h1v2h-1z"/>
<path d="M677,342h10v1h-10zm1,1h1v2h-1zm1,2h1v2h-1zm1,2h1v2h-1zm1,2h1v2h-1zm1,2h1v1h-1zm4-8h1v1h-1zm-1,1h1v2h-1zm-1,2h1v2h-1zm-1,2h1v2h-1zm-1,2h1v2h-1z"/>
<path d="M396,457h10v1h-10zm1,1h1v2h-1zm1,2h1v2h-1zm1,2h1v2h-1zm1,2h1v2h-1zm1,2h1v1h-1zm4-8h1v1h-1zm-1,1h1v2h-1zm-1,2h1v2h-1zm-1,2h1v2h-1zm-1,2h1v2h-1z"/>
<path d="M411,470h10v1h-10zm1,1h1v2h-1zm1,2h1v2h-1zm1,2h1v2h-1zm1,2h1v2h-1zm1,2h1v1h-1zm4-8h1v1h-1zm-1,1h1v2h-1zm-1,2h1v2h-1zm-1,2h1v2h-1zm-1,2h1v2h-1z"/>
<path d="M374,540h10v1h-10zm1,1h1v2h-1zm1,2h1v2h-1zm1,2h1v2h-1zm1,2h1v2h-1zm1,2h1v1h-1zm4-8h1v1h-1zm-1,1h1v2h-1zm-1,2h1v2h-1zm-1,2h1v2h-1zm-1,2h1v2h-1z"/>
<path d="M363,569h10v1h-10zm1,1h1v2h-1zm1,2h1v2h-1zm1,2h1v2h-1zm1,2h1v2h-1zm1,2h1v1h-1zm4-8h1v1h-1zm-1,1h1v2h-1zm-1,2h1v2h-1zm-1,2h1v2h-1zm-1,2h1v2h-1z"/>
<path d="M394,568h10v1h-10zm1,1h1v2h-1zm1,2h1v2h-1zm1,2h1v2h-1zm1,2h1v2h-1zm1,2h1v1h-1zm4-8h1v1h-1zm-1,1h1v2h-1zm-1,2h1v2h-1zm-1,2h1v2h-1zm-1,2h1v2h-1z"/>
<path d="M246,625h10v1h-10zm1,1h1v2h-1zm1,2h1v2h-1zm1,2h1v2h-1zm1,2h1v2h-1zm1,2h1v1h-1zm4-8h1v1h-1zm-1,1h1v2h-1zm-1,2h1v2h-1zm-1,2h1v2h-1zm-1,2h1v2h-1z"/>
<path d="M246,629h10v1h-10zm1,1h1v2h-1zm1,2h1v2h-1zm1,2h1v2h-1zm1,2h1v2h-1zm1,2h1v1h-1zm4-8h1v1h-1zm-1,1h1v2h-1zm-1,2h1v2h-1zm-1,2h1v2h-1zm-1,2h1v2h-1z"/>
<path d="M461,406h10v1h-10zm1,1h1v2h-1zm1,2h1v2h-1zm1,2h1v2h-1zm1,2h1v2h-1zm1,2h1v1h-1zm4-8h1v1h-1zm-1,1h1v2h-1zm-1,2h1v2h-1zm-1,2h1v2h-1zm-1,2h1v2h-1z"/>
<path d="M482,417h10v1h-10zm1,1h1v2h-1zm1,2h1v2h-1zm1,2h1v2h-1zm1,2h1v2h-1zm1,2h1v1h-1zm4-8h1v1h-1zm-1,1h1v2h-1zm-1,2h1v2h-1zm-1,2h1v2h-1zm-1,2h1v2h-1z"/>
<path d="M475,426h10v1h-10zm1,1h1v2h-1zm1,2h1v2h-1zm1,2h1v2h-1zm1,2h1v2h-1zm1,2h1v1h-1zm4-8h1v1h-1zm-1,1h1v2h-1zm-1,2h1v2h-1zm-1,2h1v2h-1zm-1,2h1v2h-1z"/>
<path d="M541,430h10v1h-10zm1,1h1v2h-1zm1,2h1v2h-1zm1,2h1v2h-1zm1,2h1v2h-1zm1,2h1v1h-1zm4-8h1v1h-1zm-1,1h1v2h-1zm-1,2h1v2h-1zm-1,2h1v2h-1zm-1,2h1v2h-1z"/>
<path d="M601,402h10v1h-10zm1,1h1v2h-1zm1,2h1v2h-1zm1,2h1v2h-1zm1,2h1v2h-1zm1,2h1v1h-1zm4-8h1v1h-1zm-1,1h1v2h-1zm-1,2h1v2h-1zm-1,2h1v2h-1zm-1,2h1v2h-1z"/>
<path d="M597,406h10v1h-10zm1,1h1v2h-1zm1,2h1v2h-1zm1,2h1v2h-1zm1,2h1v2h-1zm1,2h1v1h-1zm4-8h1v1h-1zm-1,1h1v2h-1zm-1,2h1v2h-1zm-1,2h1v2h-1zm-1,2h1v2h-1z"/>
<path d="M593,412h10v1h-10zm1,1h1v2h-1zm1,2h1v2h-1zm1,2h1v2h-1zm1,2h1v2h-1zm1,2h1v1h-1zm4-8h1v1h-1zm-1,1h1v2h-1zm-1,2h1v2h-1zm-1,2h1v2h-1zm-1,2h1v2h-1z"/>
<path d="M641,408h10v1h-10zm1,1h1v2h-1zm1,2h1v2h-1zm1,2h1v2h-1zm1,2h1v2h-1zm1,2h1v1h-1zm4-8h1v1h-1zm-1,1h1v2h-1zm-1,2h1v2h-1zm-1,2h1v2h-1zm-1,2h1v2h-1z"/>
<path d="M614,444h10v1h-10zm1,1h1v2h-1zm1,2h1v2h-1zm1,2h1v2h-1zm1,2h1v2h-1zm1,2h1v1h-1zm4-8h1v1h-1zm-1,1h1v2h-1zm-1,2h1v2h-1zm-1,2h1v2h-1zm-1,2h1v2h-1z"/>
<path d="M446,456h10v1h-10zm1,1h1v2h-1zm1,2h1v2h-1zm1,2h1v2h-1zm1,2h1v2h-1zm1,2h1v1h-1zm4-8h1v1h-1zm-1,1h1v2h-1zm-1,2h1v2h-1zm-1,2h1v2h-1zm-1,2h1v2h-1z"/>
<path d="M432,462h10v1h-10zm1,1h1v2h-1zm1,2h1v2h-1zm1,2h1v2h-1zm1,2h1v2h-1zm1,2h1v1h-1zm4-8h1v1h-1zm-1,1h1v2h-1zm-1,2h1v2h-1zm-1,2h1v2h-1zm-1,2h1v2h-1z"/>
<path d="M425,466h10v1h-10zm1,1h1v2h-1zm1,2h1v2h-1zm1,2h1v2h-1zm1,2h1v2h-1zm1,2h1v1h-1zm4-8h1v1h-1zm-1,1h1v2h-1zm-1,2h1v2h-1zm-1,2h1v2h-1zm-1,2h1v2h-1z"/>
<path d="M422,476h10v1h-10zm1,1h1v2h-1zm1,2h1v2h-1zm1,2h1v2h-1zm1,2h1v2h-1zm1,2h1v1h-1zm4-8h1v1h-1zm-1,1h1v2h-1zm-1,2h1v2h-1zm-1,2h1v2h-1zm-1,2h1v2h-1z"/>
<path d="M463,483h10v1h-10zm1,1h1v2h-1zm1,2h1v2h-1zm1,2h1v2h-1zm1,2h1v2h-1zm1,2h1v1h-1zm4-8h1v1h-1zm-1,1h1v2h-1zm-1,2h1v2h-1zm-1,2h1v2h-1zm-1,2h1v2h-1z"/>
<path d="M461,488h10v1h-10zm1,1h1v2h-1zm1,2h1v2h-1zm1,2h1v2h-1zm1,2h1v2h-1zm1,2h1v1h-1zm4-8h1v1h-1zm-1,1h1v2h-1zm-1,2h1v2h-1zm-1,2h1v2h-1zm-1,2h1v2h-1z"/>
<path d="M495,486h10v1h-10zm1,1h1v2h-1zm1,2h1v2h-1zm1,2h1v2h-1zm1,2h1v2h-1zm1,2h1v1h-1zm4-8h1v1h-1zm-1,1h1v2h-1zm-1,2h1v2h-1zm-1,2h1v2h-1zm-1,2h1v2h-1z"/>
<path d="M600,491h10v1h-10zm1,1h1v2h-1zm1,2h1v2h-1zm1,2h1v2h-1zm1,2h1v2h-1zm1,2h1v1h-1zm4-8h1v1h-1zm-1,1h1v2h-1zm-1,2h1v2h-1zm-1,2h1v2h-1zm-1,2h1v2h-1z"/>
<path d="M624,488h10v1h-10zm1,1h1v2h-1zm1,2h1v2h-1zm1,2h1v2h-1zm1,2h1v2h-1zm1,2h1v1h-1zm4-8h1v1h-1zm-1,1h1v2h-1zm-1,2h1v2h-1zm-1,2h1v2h-1zm-1,2h1v2h-1z"/>
<path d="M625,500h10v1h-10zm1,1h1v2h-1zm1,2h1v2h-1zm1,2h1v2h-1zm1,2h1v2h-1zm1,2h1v1h-1zm4-8h1v1h-1zm-1,1h1v2h-1zm-1,2h1v2h-1zm-1,2h1v2h-1zm-1,2h1v2h-1z"/>
<path d="M641,499h10v1h-10zm1,1h1v2h-1zm1,2h1v2h-1zm1,2h1v2h-1zm1,2h1v2h-1zm1,2h1v1h-1zm4-8h1v1h-1zm-1,1h1v2h-1zm-1,2h1v2h-1zm-1,2h1v2h-1zm-1,2h1v2h-1z"/>
<path d="M467,518h10v1h-10zm1,1h1v2h-1zm1,2h1v2h-1zm1,2h1v2h-1zm1,2h1v2h-1zm1,2h1v1h-1zm4-8h1v1h-1zm-1,1h1v2h-1zm-1,2h1v2h-1zm-1,2h1v2h-1zm-1,2h1v2h-1z"/>
<path d="M459,524h10v1h-10zm1,1h1v2h-1zm1,2h1v2h-1zm1,2h1v2h-1zm1,2h1v2h-1zm1,2h1v1h-1zm4-8h1v1h-1zm-1,1h1v2h-1zm-1,2h1v2h-1zm-1,2h1v2h-1zm-1,2h1v2h-1z"/>
<path d="M451,528h10v1h-10zm1,1h1v2h-1zm1,2h1v2h-1zm1,2h1v2h-1zm1,2h1v2h-1zm1,2h1v1h-1zm4-8h1v1h-1zm-1,1h1v2h-1zm-1,2h1v2h-1zm-1,2h1v2h-1zm-1,2h1v2h-1z"/>
<path d="M449,529h10v1h-10zm1,1h1v2h-1zm1,2h1v2h-1zm1,2h1v2h-1zm1,2h1v2h-1zm1,2h1v1h-1zm4-8h1v1h-1zm-1,1h1v2h-1zm-1,2h1v2h-1zm-1,2h1v2h-1zm-1,2h1v2h-1z"/>
<path d="M631,533h10v1h-10zm1,1h1v2h-1zm1,2h1v2h-1zm1,2h1v2h-1zm1,2h1v2h-1zm1,2h1v1h-1zm4-8h1v1h-1zm-1,1h1v2h-1zm-1,2h1v2h-1zm-1,2h1v2h-1zm-1,2h1v2h-1z"/>
<path d="M510,581h10v1h-10zm1,1h1v2h-1zm1,2h1v2h-1zm1,2h1v2h-1zm1,2h1v2h-1zm1,2h1v1h-1zm4-8h1v1h-1zm-1,1h1v2h-1zm-1,2h1v2h-1zm-1,2h1v2h-1zm-1,2h1v2h-1z"/>
<path d="M497,627h10v1h-10zm1,1h1v2h-1zm1,2h1v2h-1zm1,2h1v2h-1zm1,2h1v2h-1zm1,2h1v1h-1zm4-8h1v1h-1zm-1,1h1v2h-1zm-1,2h1v2h-1zm-1,2h1v2h-1zm-1,2h1v2h-1z"/>
<path d="M718,425h10v1h-10zm1,1h1v2h-1zm1,2h1v2h-1zm1,2h1v2h-1zm1,2h1v2h-1zm1,2h1v1h-1zm4-8h1v1h-1zm-1,1h1v2h-1zm-1,2h1v2h-1zm-1,2h1v2h-1zm-1,2h1v2h-1z"/>
<path d="M712,432h10v1h-10zm1,1h1v2h-1zm1,2h1v2h-1zm1,2h1v2h-1zm1,2h1v2h-1zm1,2h1v1h-1zm4-8h1v1h-1zm-1,1h1v2h-1zm-1,2h1v2h-1zm-1,2h1v2h-1zm-1,2h1v2h-1z"/>
<path d="M688,460h10v1h-10zm1,1h1v2h-1zm1,2h1v2h-1zm1,2h1v2h-1zm1,2h1v2h-1zm1,2h1v1h-1zm4-8h1v1h-1zm-1,1h1v2h-1zm-1,2h1v2h-1zm-1,2h1v2h-1zm-1,2h1v2h-1z"/>
<path d="M671,490h10v1h-10zm1,1h1v2h-1zm1,2h1v2h-1zm1,2h1v2h-1zm1,2h1v2h-1zm1,2h1v1h-1zm4-8h1v1h-1zm-1,1h1v2h-1zm-1,2h1v2h-1zm-1,2h1v2h-1zm-1,2h1v2h-1z"/>
<path d="M696,543h10v1h-10zm1,1h1v2h-1zm1,2h1v2h-1zm1,2h1v2h-1zm1,2h1v2h-1zm1,2h1v1h-1zm4-8h1v1h-1zm-1,1h1v2h-1zm-1,2h1v2h-1zm-1,2h1v2h-1zm-1,2h1v2h-1z"/>
<path d="M366,676h10v1h-10zm1,1h1v2h-1zm1,2h1v2h-1zm1,2h1v2h-1zm1,2h1v2h-1zm1,2h1v1h-1zm4-8h1v1h-1zm-1,1h1v2h-1zm-1,2h1v2h-1zm-1,2h1v2h-1zm-1,2h1v2h-1z"/>
<path d="M421,653h10v1h-10zm1,1h1v2h-1zm1,2h1v2h-1zm1,2h1v2h-1zm1,2h1v2h-1zm1,2h1v1h-1zm4-8h1v1h-1zm-1,1h1v2h-1zm-1,2h1v2h-1zm-1,2h1v2h-1zm-1,2h1v2h-1z"/>
<path d="M454,658h10v1h-10zm1,1h1v2h-1zm1,2h1v2h-1zm1,2h1v2h-1zm1,2h1v2h-1zm1,2h1v1h-1zm4-8h1v1h-1zm-1,1h1v2h-1zm-1,2h1v2h-1zm-1,2h1v2h-1zm-1,2h1v2h-1z"/>
<path d="M548,650h10v1h-10zm1,1h1v2h-1zm1,2h1v2h-1zm1,2h1v2h-1zm1,2h1v2h-1zm1,2h1v1h-1zm4-8h1v1h-1zm-1,1h1v2h-1zm-1,2h1v2h-1zm-1,2h1v2h-1zm-1,2h1v2h-1z"/>
<path d="M601,645h10v1h-10zm1,1h1v2h-1zm1,2h1v2h-1zm1,2h1v2h-1zm1,2h1v2h-1zm1,2h1v1h-1zm4-8h1v1h-1zm-1,1h1v2h-1zm-1,2h1v2h-1zm-1,2h1v2h-1zm-1,2h1v2h-1z"/>
<path d="M621,675h10v1h-10zm1,1h1v2h-1zm1,2h1v2h-1zm1,2h1v2h-1zm1,2h1v2h-1zm1,2h1v1h-1zm4-8h1v1h-1zm-1,1h1v2h-1zm-1,2h1v2h-1zm-1,2h1v2h-1zm-1,2h1v2h-1z"/>
<path d="M537,745h10v1h-10zm1,1h1v2h-1zm1,2h1v2h-1zm1,2h1v2h-1zm1,2h1v2h-1zm1,2h1v1h-1zm4-8h1v1h-1zm-1,1h1v2h-1zm-1,2h1v2h-1zm-1,2h1v2h-1zm-1,2h1v2h-1z"/>
<path d="M753,761h10v1h-10zm1,1h1v2h-1zm1,2h1v2h-1zm1,2h1v2h-1zm1,2h1v2h-1zm1,2h1v1h-1zm4-8h1v1h-1zm-1,1h1v2h-1zm-1,2h1v2h-1zm-1,2h1v2h-1zm-1,2h1v2h-1z"/>
<path d="M672,775h10v1h-10zm1,1h1v2h-1zm1,2h1v2h-1zm1,2h1v2h-1zm1,2h1v2h-1zm1,2h1v1h-1zm4-8h1v1h-1zm-1,1h1v2h-1zm-1,2h1v2h-1zm-1,2h1v2h-1zm-1,2h1v2h-1z"/>
</g>
<g fill="none" stroke="#000" stroke-width="1" shape-rendering="crispEdges">
<rect x="181.5" y="159.5" width="636.0" height="680.0"/>
<path d="M198.5,159.5v7.5 M198.5,839.5v-7.5 M216.5,159.5v7.5 M216.5,839.5v-7.5 M234.5,159.5v7.5 M234.5,839.5v-7.5 M251.5,159.5v14.5 M251.5,839.5v-13.5 M269.5,159.5v7.5 M269.5,839.5v-7.5 M287.5,159.5v7.5 M287.5,839.5v-7.5 M304.5,159.5v7.5 M304.5,839.5v-7.5 M322.5,159.5v14.5 M322.5,839.5v-13.5 M340.5,159.5v7.5 M340.5,839.5v-7.5 M358.5,159.5v7.5 M358.5,839.5v-7.5 M375.5,159.5v7.5 M375.5,839.5v-7.5 M393.5,159.5v14.5 M393.5,839.5v-13.5 M411.5,159.5v7.5 M411.5,839.5v-7.5 M428.5,159.5v7.5 M428.5,839.5v-7.5 M446.5,159.5v7.5 M446.5,839.5v-7.5 M464.5,159.5v14.5 M464.5,839.5v-13.5 M481.5,159.5v7.5 M481.5,839.5v-7.5 M499.5,159.5v7.5 M499.5,839.5v-7.5 M517.5,159.5v7.5 M517.5,839.5v-7.5 M534.5,159.5v14.5 M534.5,839.5v-13.5 M552.5,159.5v7.5 M552.5,839.5v-7.5 M570.5,159.5v7.5 M570.5,839.5v-7.5 M587.5,159.5v7.5 M587.5,839.5v-7.5 M605.5,159.5v14.5 M605.5,839.5v-13.5 M623.5,159.5v7.5 M623.5,839.5v-7.5 M640.5,159.5v7.5 M640.5,839.5v-7.5 M658.5,159.5v7.5 M658.5,839.5v-7.5 M676.5,159.5v14.5 M676.5,839.5v-13.5 M694.5,159.5v7.5 M694.5,839.5v-7.5 M711.5,159.5v7.5 M711.5,839.5v-7.5 M729.5,159.5v7.5 M729.5,839.5v-7.5 M747.5,159.5v14.5 M747.5,839.5v-13.5 M764.5,159.5v7.5 M764.5,839.5v-7.5 M782.5,159.5v7.5 M782.5,839.5v-7.5 M800.5,159.5v7.5 M800.5,839.5v-7.5 M181.5,821.5h6.5 M817.5,821.5h-6.5 M181.5,803.5h6.5 M817.5,803.5h-6.5 M181.5,786.5h6.5 M817.5,786.5h-6.5 M181.5,768.5h13.5 M817.5,768.5h-13.5 M181.5,750.5h6.5 M817.5,750.5h-6.5 M181.5,733.5h6.5 M817.5,733.5h-6.5 M181.5,715.5h6.5 M817.5,715.5h-6.5 M181.5,697.5h13.5 M817.5,697.5h-13.5 M181.5,679.5h6.5 M817.5,679.5h-6.5 M181.5,662.5h6.5 M817.5,662.5h-6.5 M181.5,644.5h6.5 M817.5,644.5h-6.5 M181.5,626.5h13.5 M817.5,626.5h-13.5 M181.5,609.5h6.5 M817.5,609.5h-6.5 M181.5,591.5h6.5 M817.5,591.5h-6.5 M181.5,573.5h6.5 M817.5,573.5h-6.5 M181.5,556.5h13.5 M817.5,556.5h-13.5 M181.5,538.5h6.5 M817.5,538.5h-6.5 M181.5,520.5h6.5 M817.5,520.5h-6.5 M181.5,503.5h6.5 M817.5,503.5h-6.5 M181.5,485.5h13.5 M817.5,485.5h-13.5 M181.5,467.5h6.5 M817.5,467.5h-6.5 M181.5,450.5h6.5 M817.5,450.5h-6.5 M181.5,432.5h6.5 M817.5,432.5h-6.5 M181.5,414.5h13.5 M817.5,414.5h-13.5 M181.5,396.5h6.5 M817.5,396.5h-6.5 M181.5,379.5h6.5 M817.5,379.5h-6.5 M181.5,361.5h6.5 M817.5,361.5h-6.5 M181.5,343.5h13.5 M817.5,343.5h-13.5 M181.5,326.5h6.5 M817.5,326.5h-6.5 M181.5,308.5h6.5 M817.5,308.5h-6.5 M181.5,290.5h6.5 M817.5,290.5h-6.5 M181.5,273.5h13.5 M817.5,273.5h-13.5 M181.5,255.5h6.5 M817.5,255.5h-6.5 M181.5,237.5h6.5 M817.5,237.5h-6.5 M181.5,220.5h6.5 M817.5,220.5h-6.5 M181.5,202.5h13.5 M817.5,202.5h-13.5 M181.5,184.5h6.5 M817.5,184.5h-6.5 M181.5,166.5h6.5 M817.5,166.5h-6.5"/>
</g>
<g shape-rendering="crispEdges">
<rect x="837.5" y="180.30" width="25.0" height="43.06" fill="#b40000"/>
<rect x="837.5" y="222.86" width="25.0" height="43.06" fill="#d21400"/>
<rect x="837.5" y="265.42" width="25.0" height="43.06" fill="#e61e05"/>
<rect x="837.5" y="307.98" width="25.0" height="43.06" fill="#ff370a"/>
<rect x="837.5" y="350.54" width="25.0" height="43.06" fill="#ff690a"/>
<rect x="837.5" y="393.10" width="25.0" height="43.06" fill="#ff8c14"/>
<rect x="837.5" y="435.66" width="25.0" height="43.06" fill="#ffb419"/>
<rect x="837.5" y="478.22" width="25.0" height="43.06" fill="#ffd520"/>
<rect x="837.5" y="520.78" width="25.0" height="43.06" fill="#e6ff32"/>
<rect x="837.5" y="563.34" width="25.0" height="43.06" fill="#d2ff64"/>
<rect x="837.5" y="605.90" width="25.0" height="43.06" fill="#d2ffa0"/>
<rect x="837.5" y="648.46" width="25.0" height="43.06" fill="#d7ffc8"/>
<rect x="837.5" y="691.02" width="25.0" height="43.06" fill="#d7e1fa"/>
<rect x="837.5" y="733.58" width="25.0" height="43.06" fill="#d9efff"/>
<rect x="837.5" y="776.14" width="25.0" height="43.06" fill="#e6f7ff"/>
<path d="M837.5,222.5H862.5 M837.5,265.5H862.5 M837.5,307.5H862.5 M837.5,350.5H862.5 M837.5,393.5H862.5 M837.5,435.5H862.5 M837.5,478.5H862.5 M837.5,520.5H862.5 M837.5,563.5H862.5 M837.5,605.5H862.5 M837.5,648.5H862.5 M837.5,691.5H862.5 M837.5,733.5H862.5 M837.5,776.5H862.5" stroke="#000" fill="none"/>
<rect x="837.5" y="180.5" width="25.0" height="638.2" fill="none" stroke="#000"/>
</g>
<text class="t1" x="188.2" y="39.2" textLength="71.9" lengthAdjust="spacingAndGlyphs">CASA</text>
<text class="t1" x="276.7" y="39.2" textLength="55.4" lengthAdjust="spacingAndGlyphs">DFW</text>
<text class="t1" x="347.4" y="39.2" textLength="74.4" lengthAdjust="spacingAndGlyphs">400m</text>
<text class="t1" x="440.7" y="39.2" textLength="186.1" lengthAdjust="spacingAndGlyphs">(450x480x25,</text>
<text class="t1" x="642.5" y="39.2" textLength="95.1" lengthAdjust="spacingAndGlyphs">dx=0.4</text>
<text class="t1" x="753.2" y="39.2" textLength="53.6" lengthAdjust="spacingAndGlyphs">km)</text>
<text class="t1" x="261.7" y="78.0" textLength="107.6" lengthAdjust="spacingAndGlyphs">Analysis</text>
<text class="t1" x="385.7" y="78.0" textLength="36.1" lengthAdjust="spacingAndGlyphs">for</text>
<text class="t1" x="438.7" y="78.0" textLength="50.6" lengthAdjust="spacingAndGlyphs">06Z</text>
<text class="t1" x="505.2" y="78.0" textLength="34.6" lengthAdjust="spacingAndGlyphs">Fri</text>
<text class="t1" x="555.2" y="78.0" textLength="34.6" lengthAdjust="spacingAndGlyphs">25</text>
<text class="t1" x="606.7" y="78.0" textLength="44.6" lengthAdjust="spacingAndGlyphs">Jan</text>
<text class="t1" x="667.7" y="78.0" textLength="65.1" lengthAdjust="spacingAndGlyphs">2019</text>
<text class="t2" x="425.6" y="121.6" textLength="70.4" lengthAdjust="spacingAndGlyphs">Z=2.000</text>
<text class="t2" x="504.4" y="121.6" textLength="24.2" lengthAdjust="spacingAndGlyphs">km</text>
<text class="t2" x="538.7" y="121.6" textLength="31.3" lengthAdjust="spacingAndGlyphs">AGL</text>
<text class="t2" x="297.1" y="151.0" textLength="49.8" lengthAdjust="spacingAndGlyphs">06:00</text>
<text class="t2" x="355.9" y="151.0" textLength="10.6" lengthAdjust="spacingAndGlyphs">Z</text>
<text class="t2" x="375.8" y="151.0" textLength="19.9" lengthAdjust="spacingAndGlyphs">Fri</text>
<text class="t2" x="405.2" y="151.0" textLength="20.5" lengthAdjust="spacingAndGlyphs">25</text>
<text class="t2" x="435.7" y="151.0" textLength="26.7" lengthAdjust="spacingAndGlyphs">Jan</text>
<text class="t2" x="472.9" y="151.0" textLength="38.8" lengthAdjust="spacingAndGlyphs">2019</text>
<text class="t2" x="541.2" y="151.0" textLength="48.4" lengthAdjust="spacingAndGlyphs">T=0.0</text>
<text class="t2" x="598.3" y="151.0" textLength="10.0" lengthAdjust="spacingAndGlyphs">s</text>
<text class="t2" x="616.8" y="151.0" textLength="81.3" lengthAdjust="spacingAndGlyphs">(0:00:00)</text>
<text class="t2" x="147.4" y="890.8" textLength="45.6" lengthAdjust="spacingAndGlyphs">Horiz.</text>
<text class="t2" x="203.1" y="890.8" textLength="34.3" lengthAdjust="spacingAndGlyphs">wind</text>
<text class="t2" x="246.3" y="890.8" textLength="39.0" lengthAdjust="spacingAndGlyphs">(kts,</text>
<text class="t2" x="293.3" y="890.8" textLength="66.0" lengthAdjust="spacingAndGlyphs">Shaded)</text>
<text class="t2" x="682.7" y="890.8" textLength="75.8" lengthAdjust="spacingAndGlyphs">Min=6.44</text>
<text class="t2" x="766.7" y="890.8" textLength="81.4" lengthAdjust="spacingAndGlyphs">Max=20.9</text>
<text class="t3" x="485.8" y="890.3" textLength="33.2" lengthAdjust="spacingAndGlyphs">(km)</text>
<text class="t3" transform="translate(117.8,513) rotate(-90)" x="0" y="0" textLength="32" lengthAdjust="spacingAndGlyphs">(km)</text>
<text class="t2" x="174.5" y="861.0" textLength="11.3" lengthAdjust="spacingAndGlyphs">0</text>
<text class="t2" x="240.3" y="861.0" textLength="21.2" lengthAdjust="spacingAndGlyphs">20</text>
<text class="t2" x="310.9" y="861.0" textLength="21.2" lengthAdjust="spacingAndGlyphs">40</text>
<text class="t2" x="381.6" y="861.0" textLength="21.2" lengthAdjust="spacingAndGlyphs">60</text>
<text class="t2" x="452.3" y="861.0" textLength="21.2" lengthAdjust="spacingAndGlyphs">80</text>
<text class="t2" x="518.3" y="861.0" textLength="30.4" lengthAdjust="spacingAndGlyphs">100</text>
<text class="t2" x="589.0" y="861.0" textLength="30.4" lengthAdjust="spacingAndGlyphs">120</text>
<text class="t2" x="659.7" y="861.0" textLength="30.4" lengthAdjust="spacingAndGlyphs">140</text>
<text class="t2" x="730.3" y="861.0" textLength="30.4" lengthAdjust="spacingAndGlyphs">160</text>
<text class="t2" x="801.0" y="861.0" textLength="30.4" lengthAdjust="spacingAndGlyphs">180</text>
<text class="t2" x="159.1" y="845.8" textLength="11.0" lengthAdjust="spacingAndGlyphs">0</text>
<text class="t2" x="148.7" y="774.8" textLength="21.4" lengthAdjust="spacingAndGlyphs">20</text>
<text class="t2" x="148.7" y="703.8" textLength="21.4" lengthAdjust="spacingAndGlyphs">40</text>
<text class="t2" x="148.7" y="632.8" textLength="21.4" lengthAdjust="spacingAndGlyphs">60</text>
<text class="t2" x="148.7" y="562.8" textLength="21.4" lengthAdjust="spacingAndGlyphs">80</text>
<text class="t2" x="140.0" y="491.8" textLength="30.1" lengthAdjust="spacingAndGlyphs">100</text>
<text class="t2" x="140.0" y="420.8" textLength="30.1" lengthAdjust="spacingAndGlyphs">120</text>
<text class="t2" x="140.0" y="349.8" textLength="30.1" lengthAdjust="spacingAndGlyphs">140</text>
<text class="t2" x="140.0" y="279.8" textLength="30.1" lengthAdjust="spacingAndGlyphs">160</text>
<text class="t2" x="140.0" y="208.8" textLength="30.1" lengthAdjust="spacingAndGlyphs">180</text>
<text class="t4" x="865.3" y="188.5" textLength="39.4" lengthAdjust="spacingAndGlyphs">150.</text>
<text class="t4" x="865.3" y="228.1" textLength="39.4" lengthAdjust="spacingAndGlyphs">140.</text>
<text class="t4" x="865.3" y="313.1" textLength="39.4" lengthAdjust="spacingAndGlyphs">120.</text>
<text class="t4" x="865.3" y="399.1" textLength="39.4" lengthAdjust="spacingAndGlyphs">100.</text>
<text class="t4" x="865.3" y="484.1" textLength="30.4" lengthAdjust="spacingAndGlyphs">80.</text>
<text class="t4" x="865.3" y="569.1" textLength="30.4" lengthAdjust="spacingAndGlyphs">60.</text>
<text class="t4" x="865.3" y="654.1" textLength="30.4" lengthAdjust="spacingAndGlyphs">40.</text>
<text class="t4" x="865.3" y="739.1" textLength="30.4" lengthAdjust="spacingAndGlyphs">20.</text>
<text class="t4" x="865.3" y="824.1" textLength="28.9" lengthAdjust="spacingAndGlyphs">0.0</text>
</svg>
</body></html>
